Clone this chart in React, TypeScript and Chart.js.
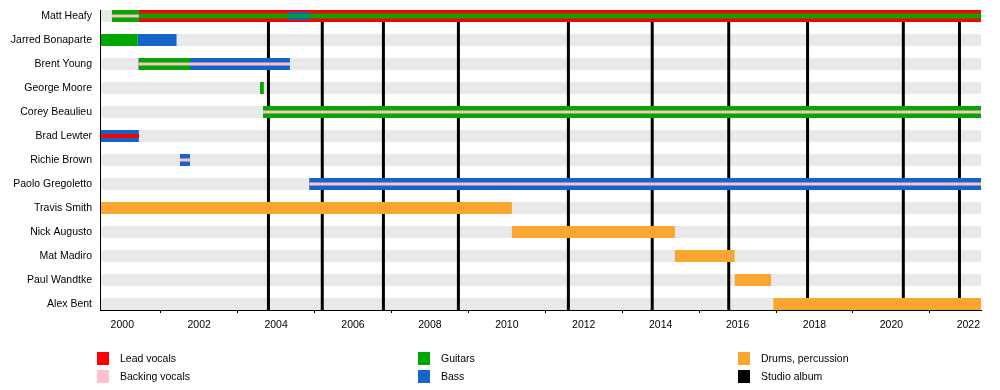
import React, { useEffect, useRef } from 'react';
import { Chart, registerables } from 'chart.js';

Chart.register(...registerables);

const START = 1999.42;
const END = 2022.33;

const members = [
  'Matt Heafy',
  'Jarred Bonaparte',
  'Brent Young',
  'George Moore',
  'Corey Beaulieu',
  'Brad Lewter',
  'Richie Brown',
  'Paolo Gregoletto',
  'Travis Smith',
  'Nick Augusto',
  'Mat Madiro',
  'Paul Wandtke',
  'Alex Bent',
];

const yearTicks = [
  2000, 2001, 2002, 2003, 2004, 2005, 2006, 2007, 2008, 2009, 2010, 2011,
  2012, 2013, 2014, 2015, 2016, 2017, 2018, 2019, 2020, 2021, 2022,
];

const studioAlbums = [
  2003.8, 2005.2, 2006.79, 2008.74, 2011.6, 2013.78, 2015.77, 2017.82, 2020.31, 2021.77,
];

type Span = [string, number, number];

// main (full-width) roles
const leadVocals: Span[] = [['Matt Heafy', 2000.43, END]];
const guitars: Span[] = [
  ['Matt Heafy', 1999.73, 2000.43],
  ['Jarred Bonaparte', START, 2000.4],
  ['Brent Young', 2000.42, 2001.76],
  ['George Moore', 2003.58, 2003.68],
  ['Corey Beaulieu', 2003.66, END],
];
const bass: Span[] = [
  ['Jarred Bonaparte', 2000.4, 2001.41],
  ['Brent Young', 2001.76, 2004.36],
  ['Brad Lewter', START, 2000.43],
  ['Richie Brown', 2001.5, 2001.76],
  ['Paolo Gregoletto', 2004.86, END],
];
const drums: Span[] = [
  ['Travis Smith', START, 2010.13],
  ['Nick Augusto', 2010.13, 2014.37],
  ['Mat Madiro', 2014.37, 2015.92],
  ['Paul Wandtke', 2015.93, 2016.87],
  ['Alex Bent', 2016.93, END],
];

// secondary roles
const guitarsSecondary: Span[] = [['Matt Heafy', 2000.43, END]];
const bassSecondary: Span[] = [['Matt Heafy', 2004.3, 2004.87]];
const guitarsThin: Span[] = [['Matt Heafy', 2004.3, 2004.87]];
const leadVocalsThin: Span[] = [['Brad Lewter', START, 2000.43]];
const backingVocalsThin: Span[] = [
  ['Matt Heafy', 1999.73, 2000.43],
  ['Brent Young', 2000.42, 2004.36],
  ['Corey Beaulieu', 2003.66, END],
  ['Richie Brown', 2001.5, 2001.76],
  ['Paolo Gregoletto', 2004.86, END],
];

const COLORS = {
  lead: '#FF0000',
  backing: '#FFC0CB',
  guitars: '#00A800',
  bass: '#1565C8',
  drums: '#F9A530',
  album: '#000000',
  row: '#E9E9E9',
};

const legendItems = [
  { label: 'Lead vocals', color: COLORS.lead, col: 0, row: 0 },
  { label: 'Backing vocals', color: COLORS.backing, col: 0, row: 1 },
  { label: 'Guitars', color: COLORS.guitars, col: 1, row: 0 },
  { label: 'Bass', color: COLORS.bass, col: 1, row: 1 },
  { label: 'Drums, percussion', color: COLORS.drums, col: 2, row: 0 },
  { label: 'Studio album', color: COLORS.album, col: 2, row: 1 },
];

const FONT = '"Liberation Sans", Arial, Helvetica, sans-serif';

function layer(label: string, spans: Span[], color: string, thickness: number, order: number) {
  return {
    type: 'bar' as const,
    label,
    data: spans.map(([m, s, e]) => ({ y: members.indexOf(m), x: [s, e] })),
    backgroundColor: color,
    barThickness: thickness,
    grouped: false,
    order,
    borderWidth: 0,
    inflateAmount: 0,
  };
}

const albumLinesPlugin = {
  id: 'albumLines',
  afterDatasetDraw(chart: any, args: any) {
    const ds = chart.data.datasets[args.index];
    if (!ds || ds.label !== 'rows') return;
    const { ctx, chartArea, scales } = chart;
    ctx.save();
    ctx.strokeStyle = COLORS.album;
    ctx.lineWidth = 3;
    for (const yr of studioAlbums) {
      const x = scales.x.getPixelForValue(yr);
      ctx.beginPath();
      ctx.moveTo(x, chartArea.top);
      ctx.lineTo(x, chartArea.bottom);
      ctx.stroke();
    }
    ctx.restore();
  },
};

export default function App() {
  const canvasRef = useRef<HTMLCanvasElement | null>(null);

  useEffect(() => {
    document.body.style.margin = '0';
    const canvas = canvasRef.current;
    if (!canvas) return;
    Chart.defaults.font.family = FONT;
    Chart.defaults.font.size = 10.5;
    Chart.defaults.color = '#000';

    const rowsSpans: Span[] = members.map((m) => [m, START, END]);

    const chart = new Chart(canvas, {
      type: 'bar',
      data: {
        datasets: [
          layer('rows', rowsSpans, COLORS.row, 12, 20),
          layer('Lead vocals', leadVocals, COLORS.lead, 12, 10),
          layer('Guitars', guitars, COLORS.guitars, 12, 10),
          layer('Bass', bass, COLORS.bass, 12, 10),
          layer('Drums, percussion', drums, COLORS.drums, 12, 10),
          layer('Guitars (secondary)', guitarsSecondary, COLORS.guitars, 5, 6),
          layer('Bass (secondary)', bassSecondary, COLORS.bass, 8, 5),
          layer('Guitars (thin)', guitarsThin, COLORS.guitars, 3, 3),
          layer('Lead vocals (thin)', leadVocalsThin, COLORS.lead, 4, 2),
          layer('Backing vocals', backingVocalsThin, COLORS.backing, 3, 1),
        ] as any,
      },
      options: {
        indexAxis: 'y',
        animation: false,
        responsive: false,
        maintainAspectRatio: false,
        layout: { padding: { top: 10, left: 0, right: 19, bottom: 50 } },
        plugins: {
          legend: { display: false },
          tooltip: { enabled: false },
        },
        scales: {
          x: {
            type: 'linear',
            min: START,
            max: END,
            beginAtZero: false,
            afterBuildTicks: (axis: any) => {
              axis.ticks = yearTicks.map((v) => ({ value: v }));
            },
            afterFit: (scale: any) => {
              scale.height = 30;
            },
            ticks: {
              autoSkip: false,
              maxRotation: 0,
              padding: 6,
              color: '#000',
              callback: (v: any) => (Number(v) % 2 === 0 ? String(v) : ''),
            },
            grid: {
              drawOnChartArea: false,
              drawTicks: true,
              tickLength: 3,
              tickColor: (c: any) =>
                c.tick && Math.round(c.tick.value) % 2 !== 0 ? '#000' : 'rgba(0,0,0,0)',
            },
            border: { display: true, color: '#000', width: 1, z: 1 },
          },
          y: {
            type: 'linear',
            min: -0.25,
            max: 12.25,
            reverse: true,
            offset: false,
            afterBuildTicks: (axis: any) => {
              axis.ticks = members.map((_, i) => ({ value: i }));
            },
            afterFit: (scale: any) => {
              scale.width = 100;
              scale.paddingTop = 0;
              scale.paddingBottom = 0;
            },
            ticks: {
              padding: 8,
              color: '#000',
              callback: (v: any) => members[Math.round(Number(v))] ?? '',
            },
            grid: { display: false, drawTicks: false, tickLength: 0 },
            border: { display: true, color: '#000', width: 1, z: 1 },
          },
        },
      } as any,
      plugins: [albumLinesPlugin],
    });

    return () => chart.destroy();
  }, []);

  return (
    <div style={{ position: 'relative', width: 1000, height: 390, fontFamily: FONT }}>
      <canvas ref={canvasRef} width={1000} height={390} style={{ display: 'block' }} />
      {legendItems.map((it) => (
        <div
          key={it.label}
          style={{
            position: 'absolute',
            left: [97, 418, 738][it.col],
            top: 352 + it.row * 17.5,
            height: 13,
            display: 'flex',
            alignItems: 'center',
            fontSize: 10.5,
            color: '#000',
            whiteSpace: 'nowrap',
          }}
        >
          <span style={{ display: 'inline-block', width: 12, height: 13, background: it.color }} />
          <span style={{ marginLeft: 11, lineHeight: '13px' }}>{it.label}</span>
        </div>
      ))}
    </div>
  );
}
